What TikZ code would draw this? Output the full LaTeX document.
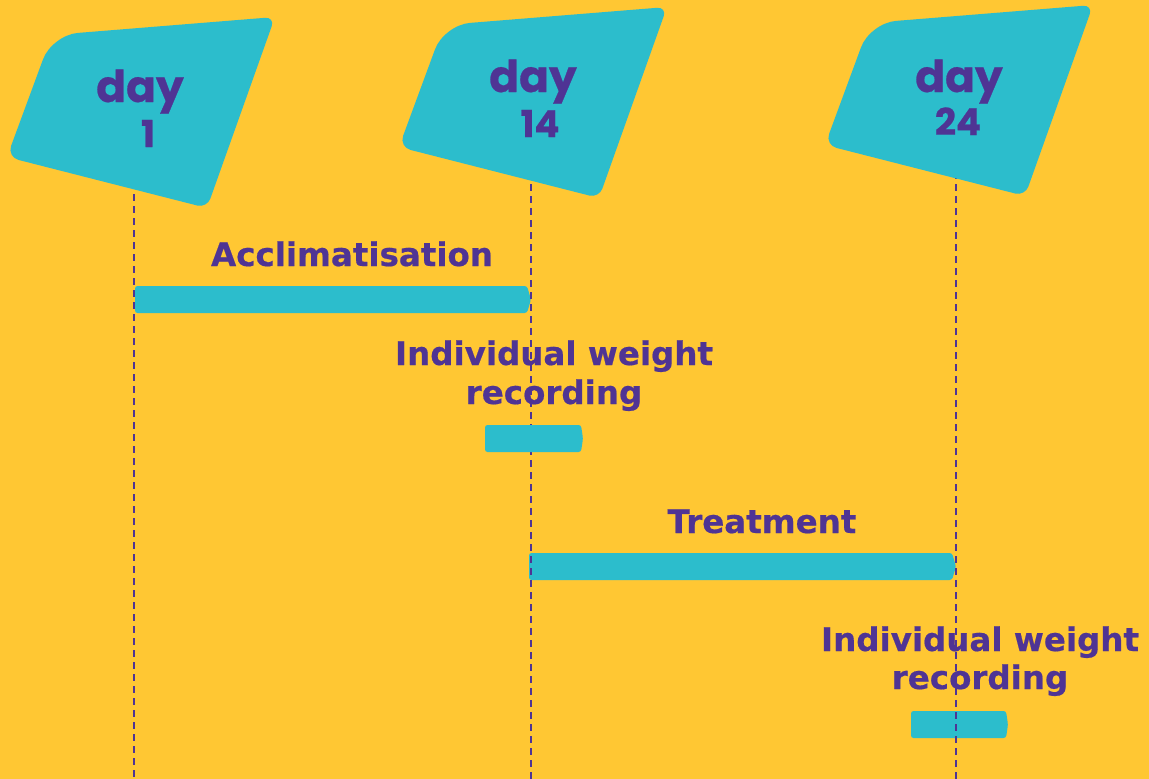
\documentclass[tikz,border=0pt]{standalone}
\usepackage{fontspec}
\newfontfamily\lblfont{DejaVu Sans}[BoldFeatures={FakeBold=0.5}]
\newfontfamily\dayfont{Poppins}[BoldFeatures={FakeBold=0.6}]
\definecolor{bg}{HTML}{FFC733}
\definecolor{tl}{HTML}{2CBDCC}
\definecolor{pur}{HTML}{4F3494}
\begin{document}
\begin{tikzpicture}[x=1pt,y=-1pt,
  dayshape/.style={fill=tl},
  bar/.style={fill=tl, rounded corners=2.5pt},
  guide/.style={draw=pur, line width=1.3pt, dash pattern=on 7pt off 5pt},
  lbl/.style={text=pur, font=\lblfont\bfseries\fontsize{32.5}{39}\selectfont, inner sep=0pt, anchor=base},
  dayt/.style={text=pur, font=\dayfont\bfseries\fontsize{44}{44}\selectfont, inner sep=0pt, anchor=base},
  numt/.style={text=pur, font=\dayfont\bfseries\fontsize{37}{37}\selectfont, inner sep=0pt, anchor=base}]
\fill[bg] (0,0) rectangle (1149,779);
\useasboundingbox (0,0) rectangle (1149,779);

% bars
\fill[bar] (135,286) -- (527,286) -- (531,299.5) -- (527,313) -- (135,313) -- cycle;
\fill[bar] (529,553) -- (952,553) -- (956,566.5) -- (952,580) -- (529,580) -- cycle;
\fill[bar] (911,711) -- (1006,711) -- (1008,724.5) -- (1006,738) -- (911,738) -- cycle;

% labels
\node[lbl] (accl) at (352,266) {Acclimatisation};
\node[lbl] (iw1a) at (554,365) {Individual weight};
\node[lbl] (iw1b) at (554,404) {recording};
\node[lbl] (treat) at (762,533) {Treatment};
\node[lbl] (iw2a) at (980,651) {Individual weight};
\node[lbl] (iw2b) at (980,689) {recording};

% guides
\coordinate (g1t) at (134,170); \coordinate (g1b) at (134,779);
\coordinate (g2t) at (531,160); \coordinate (g2b) at (531,779);
\coordinate (g3t) at (956,160); \coordinate (g3b) at (956,779);
\draw[guide] (g1t) -- (g1b);
\draw[guide] (g2t) -- (g2b);
\draw[guide] (g3t) -- (g3b);

% bar over the guide
\fill[bar] (485,425) -- (581,425) -- (583,438.5) -- (581,452) -- (485,452) -- cycle;

% day shapes
\foreach \dx/\dy in {0/0, 392/-10, 818/-12}{
  \fill[dayshape, shift={(\dx,\dy)}] (163.5,26) [rounded corners=10pt] -- (275,17) -- (207,208) [rounded corners=12pt] -- (7,157) [rounded corners=26pt] -- (52,35) -- cycle;
}

\node[dayt] (d1) at (140,102) {day};
\node[numt] (n1) at (148,147) {1};
\node[dayt] (d14) at (533,92) {day};
\node[numt] (n14) at (540,137) {14};
\node[dayt] (d24) at (959,92) {day};
\node[numt] (n24) at (958,135) {24};
\end{tikzpicture}
\end{document}
